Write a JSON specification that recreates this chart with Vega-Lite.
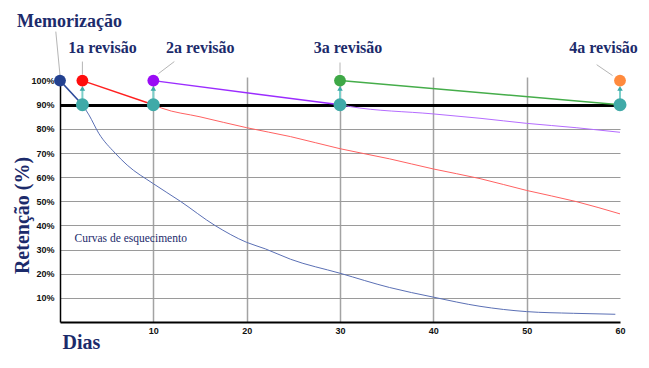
{
  "$schema": "https://vega.github.io/schema/vega-lite/v6.json",
  "width": 560,
  "height": 245,
  "autosize": {"type": "none"},
  "padding": {"left": 60, "top": 77, "right": 29, "bottom": 46},
  "background": "white",
  "config": {"view": {"stroke": null}},
  "datasets": {
    "segments": [
      {"series": "mem", "day": 0, "pct": 100},
      {"series": "mem", "day": 2.4, "pct": 90},
      {"series": "r1", "day": 2.4, "pct": 100},
      {"series": "r1", "day": 10, "pct": 90},
      {"series": "r2", "day": 10, "pct": 100},
      {"series": "r2", "day": 30, "pct": 90},
      {"series": "r3", "day": 30, "pct": 100},
      {"series": "r3", "day": 60, "pct": 90}
    ],
    "curves": [
      {"series": "c0", "day": 2.4, "pct": 90},
      {"series": "c0", "day": 3.1, "pct": 85.8},
      {"series": "c0", "day": 4.15, "pct": 78.2},
      {"series": "c0", "day": 5.9, "pct": 70},
      {"series": "c0", "day": 7.2, "pct": 65},
      {"series": "c0", "day": 10, "pct": 57.3},
      {"series": "c0", "day": 12.9, "pct": 50},
      {"series": "c0", "day": 16.6, "pct": 40},
      {"series": "c0", "day": 20, "pct": 33},
      {"series": "c0", "day": 22, "pct": 30.3},
      {"series": "c0", "day": 24.7, "pct": 26},
      {"series": "c0", "day": 30, "pct": 20.2},
      {"series": "c0", "day": 35.3, "pct": 14.3},
      {"series": "c0", "day": 40, "pct": 10.3},
      {"series": "c0", "day": 45, "pct": 6.5},
      {"series": "c0", "day": 50, "pct": 4.3},
      {"series": "c0", "day": 55, "pct": 3.6},
      {"series": "c0", "day": 59.5, "pct": 3.2},
      {"series": "c1", "day": 10, "pct": 90},
      {"series": "c1", "day": 10.9, "pct": 88.6},
      {"series": "c1", "day": 15, "pct": 85},
      {"series": "c1", "day": 20, "pct": 80.5},
      {"series": "c1", "day": 24.7, "pct": 76.8},
      {"series": "c1", "day": 30, "pct": 71.8},
      {"series": "c1", "day": 35.3, "pct": 67.6},
      {"series": "c1", "day": 40, "pct": 63.4},
      {"series": "c1", "day": 45, "pct": 59.4},
      {"series": "c1", "day": 50, "pct": 54.5},
      {"series": "c1", "day": 55.3, "pct": 49.9},
      {"series": "c1", "day": 60, "pct": 44.8},
      {"series": "c2", "day": 30, "pct": 90},
      {"series": "c2", "day": 31, "pct": 89.3},
      {"series": "c2", "day": 40, "pct": 86.2},
      {"series": "c2", "day": 45, "pct": 84.4},
      {"series": "c2", "day": 50, "pct": 82.3},
      {"series": "c2", "day": 55.3, "pct": 80.5},
      {"series": "c2", "day": 60, "pct": 78.6}
    ],
    "leaders": [
      {"day": -0.45, "pct": 120.3, "day2": 0, "pct2": 102.2},
      {"day": 2.4, "pct": 107.9, "day2": 2.4, "pct2": 102.6},
      {"day": 12.25, "pct": 107.9, "day2": 10.55, "pct2": 102.9},
      {"day": 30, "pct": 107.5, "day2": 30, "pct2": 102.9},
      {"day": 57.5, "pct": 106.6, "day2": 59.2, "pct2": 102.1}
    ],
    "reviews": [
      {"day": 2.4, "pct": 90, "top": 96.8},
      {"day": 10, "pct": 90, "top": 96.8},
      {"day": 30, "pct": 90, "top": 96.8},
      {"day": 60, "pct": 90, "top": 96.8}
    ],
    "events": [
      {"event": "Memorização", "day": 0, "pct": 100},
      {"event": "1a revisão", "day": 2.4, "pct": 100},
      {"event": "2a revisão", "day": 10, "pct": 100},
      {"event": "3a revisão", "day": 30, "pct": 100},
      {"event": "4a revisão", "day": 60, "pct": 100}
    ],
    "labels": [
      {"label": "1a revisão", "day": 4.55, "pct": 111.6},
      {"label": "2a revisão", "day": 15.03, "pct": 111.6},
      {"label": "3a revisão", "day": 30.86, "pct": 111.6},
      {"label": "4a revisão", "day": 58.24, "pct": 111.6}
    ],
    "title": [
      {"label": "Memorização", "day": 1.02, "pct": 122.4}
    ],
    "note": [
      {"label": "Curvas de esquecimento", "day": 1.55, "pct": 33.2}
    ]
  },
  "layer": [
    {
      "data": {"name": "curves"},
      "mark": {"type": "line", "strokeWidth": 1, "interpolate": "monotone"},
      "encoding": {
        "x": {
          "field": "day", "type": "quantitative",
          "scale": {"domain": [0, 60], "nice": false, "zero": false},
          "axis": {
            "values": [10, 20, 30, 40, 50, 60],
            "tickCount": 6,
            "title": "Dias",
            "titleFont": "Liberation Serif", "titleFontSize": 20, "titleFontWeight": "bold",
            "titleColor": "#1c2b6b",
            "titleX": 2, "titleY": 20, "titleAlign": "left", "titleBaseline": "middle",
            "labelFont": "Liberation Sans", "labelFontWeight": "bold", "labelFontSize": 9,
            "labelColor": "#111111", "labelPadding": 4, "labelFlush": false, "labelOverlap": false,
            "ticks": false,
            "domainColor": "#000000", "domainWidth": 2,
            "grid": true, "gridColor": "#a3a3a3", "gridWidth": 1.5,
            "gridOpacity": {"condition": {"test": "datum.value === 60", "value": 0}, "value": 1},
            "format": "d"
          }
        },
        "y": {
          "field": "pct", "type": "quantitative",
          "scale": {"domain": [0, 101.5], "nice": false},
          "axis": {
            "values": [10, 20, 30, 40, 50, 60, 70, 80, 90, 100],
            "tickCount": 10,
            "labelExpr": "datum.value + '%'",
            "title": "Retenção (%)",
            "titleFont": "Liberation Serif", "titleFontSize": 20, "titleFontWeight": "bold",
            "titleColor": "#1c2b6b",
            "titleX": -38, "titleY": 138, "titleAngle": -90, "titleAlign": "center", "titleBaseline": "middle",
            "labelFont": "Liberation Sans", "labelFontWeight": "bold", "labelFontSize": 9,
            "labelColor": "#111111", "labelPadding": 6, "labelOverlap": false,
            "ticks": false,
            "domainColor": "#000000", "domainWidth": 1.5,
            "grid": true,
            "gridColor": {"condition": {"test": "datum.value === 90", "value": "#000000"}, "value": "#9a9a9a"},
            "gridWidth": {"condition": {"test": "datum.value === 90", "value": 3}, "value": 1},
            "gridOpacity": {"condition": {"test": "datum.value === 100", "value": 0}, "value": 1}
          }
        },
        "color": {
          "field": "series", "type": "nominal", "legend": null,
          "scale": {"domain": ["c0", "c1", "c2"], "range": ["#5b70b5", "#ff6262", "#b56cff"]}
        }
      }
    },
    {
      "data": {"name": "segments"},
      "mark": {"type": "line", "strokeWidth": 1.5},
      "encoding": {
        "x": {"field": "day", "type": "quantitative"},
        "y": {"field": "pct", "type": "quantitative"},
        "stroke": {
          "field": "series", "type": "nominal", "legend": null,
          "scale": {"domain": ["mem", "r1", "r2", "r3"], "range": ["#2d4a9a", "#ff2020", "#9b2cff", "#45ad4a"]}
        }
      }
    },
    {
      "data": {"name": "leaders"},
      "mark": {"type": "rule", "color": "#b5b5b5", "strokeWidth": 1},
      "encoding": {
        "x": {"field": "day", "type": "quantitative"},
        "y": {"field": "pct", "type": "quantitative"},
        "x2": {"field": "day2"},
        "y2": {"field": "pct2"}
      }
    },
    {
      "data": {"name": "reviews"},
      "mark": {"type": "rule", "color": "#7ccfca", "strokeWidth": 2},
      "encoding": {
        "x": {"field": "day", "type": "quantitative"},
        "y": {"field": "pct", "type": "quantitative"},
        "y2": {"field": "top"}
      }
    },
    {
      "data": {"name": "reviews"},
      "mark": {"type": "point", "shape": "triangle-up", "filled": true, "color": "#3aaaa8", "size": 30, "opacity": 1},
      "encoding": {
        "x": {"field": "day", "type": "quantitative"},
        "y": {"field": "top", "type": "quantitative"}
      }
    },
    {
      "data": {"name": "reviews"},
      "mark": {"type": "circle", "color": "#40aaa8", "size": 170, "opacity": 1},
      "encoding": {
        "x": {"field": "day", "type": "quantitative"},
        "y": {"field": "pct", "type": "quantitative"}
      }
    },
    {
      "data": {"name": "events"},
      "mark": {"type": "circle", "size": 140, "opacity": 1},
      "encoding": {
        "x": {"field": "day", "type": "quantitative"},
        "y": {"field": "pct", "type": "quantitative"},
        "fill": {
          "field": "event", "type": "nominal", "legend": null,
          "scale": {
            "domain": ["Memorização", "1a revisão", "2a revisão", "3a revisão", "4a revisão"],
            "range": ["#22408f", "#ff0d0d", "#9a0cf5", "#3ea846", "#ff8a3d"]
          }
        }
      }
    },
    {
      "data": {"name": "labels"},
      "mark": {"type": "text", "font": "Liberation Serif", "fontSize": 16, "fontWeight": "bold", "color": "#1c2b6b", "align": "center", "baseline": "alphabetic"},
      "encoding": {
        "x": {"field": "day", "type": "quantitative"},
        "y": {"field": "pct", "type": "quantitative"},
        "text": {"field": "label"}
      }
    },
    {
      "data": {"name": "title"},
      "mark": {"type": "text", "font": "Liberation Serif", "fontSize": 18, "fontWeight": "bold", "color": "#1c2b6b", "align": "center", "baseline": "alphabetic"},
      "encoding": {
        "x": {"field": "day", "type": "quantitative"},
        "y": {"field": "pct", "type": "quantitative"},
        "text": {"field": "label"}
      }
    },
    {
      "data": {"name": "note"},
      "mark": {"type": "text", "font": "Liberation Serif", "fontSize": 11.5, "color": "#1c2b6b", "align": "left", "baseline": "alphabetic"},
      "encoding": {
        "x": {"field": "day", "type": "quantitative"},
        "y": {"field": "pct", "type": "quantitative"},
        "text": {"field": "label"}
      }
    }
  ]
}
